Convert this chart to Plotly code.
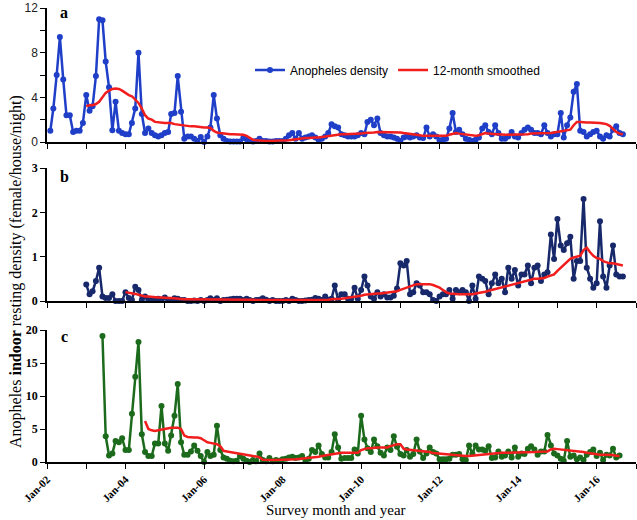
import pandas as pd
import plotly.graph_objects as go

# ---------------- data (monthly values) ----------------
# Panel a: Anopheles density, starts Feb-2002
a_start = "2002-02-01"
a_vals = (
    [1.0, 3.0, 6.0, 9.4, 5.6, 2.4, 2.4, 0.9, 1.0, 1.0, 1.7]                      # 2002
    + [4.2, 2.8, 3.2, 5.9, 11.0, 10.9, 7.2, 4.9, 1.05, 3.6, 1.0, 0.8]           # 2003
    + [0.7, 0.7, 1.7, 3.0, 8.0, 2.5, 0.8, 1.2, 0.8, 0.6, 0.5, 0.6]              # 2004
    + [0.8, 0.9, 2.5, 2.6, 5.9, 2.7, 0.3, 0.5, 0.5, 0.3, 0.1, 0.45]             # 2005
    + [0.0, 0.5, 1.3, 4.2, 2.1, 0.6, 0.3, 0.1, 0.05, 0.05, 0.05, 0.05]          # 2006
    + [0.35, 0.25, 0.1, 0.05, 0.1, 0.3, 0.1, 0.1, 0.05, 0.05, 0.1, 0.1]         # 2007
    + [0.1, 0.3, 0.6, 0.8, 0.3, 0.8, 0.3, 0.4, 0.5, 0.6, 0.4, 0.2]              # 2008
    + [0.3, 0.5, 0.8, 1.6, 1.4, 1.3, 0.7, 0.6, 0.5, 0.5, 0.5, 0.6]              # 2009
    + [0.8, 0.7, 1.8, 2.0, 1.5, 2.1, 0.8, 0.6, 0.5, 0.5, 0.4, 0.3]              # 2010
    + [0.1, 0.4, 0.5, 0.4, 0.5, 0.6, 0.4, 0.35, 1.3, 0.5, 0.7, 0.5]             # 2011
    + [0.15, 0.2, 0.3, 1.2, 2.6, 0.9, 1.1, 0.7, 0.3, 0.2, 0.1, 0.2]             # 2012
    + [0.4, 1.2, 1.5, 0.9, 0.7, 1.5, 0.8, 0.3, 0.3, 0.5, 0.9, 0.5]              # 2013
    + [0.4, 0.8, 1.1, 1.3, 1.1, 0.8, 0.8, 0.7, 1.5, 0.8, 0.5, 0.7]              # 2014
    + [0.7, 2.6, 0.4, 1.5, 2.2, 4.5, 5.2, 1.0, 0.9, 0.5, 0.7, 0.9]              # 2015
    + [1.0, 0.5, 0.3, 0.6, 0.5, 1.1, 1.4, 0.8, 0.7]                             # 2016
)
a_sm_start = "2003-01-01"
a_sm_vals = (
    [3.2, 3.3, 3.3, 3.4, 3.6, 4.0, 4.4, 4.6, 4.75, 4.8, 4.75, 4.6]
    + [4.4, 4.2, 4.1, 3.8, 3.5, 3.0, 2.4, 2.1, 2.0, 1.8, 1.75, 1.7]
    + [1.7, 1.7, 1.7, 1.6, 1.55, 1.5, 1.5, 1.45, 1.4, 1.4, 1.35, 1.3]
    + [1.3, 1.3, 1.25, 1.0, 0.85, 0.8, 0.75, 0.7, 0.7, 0.7, 0.7, 0.7]
    + [0.65, 0.55, 0.4, 0.2, 0.15, 0.12, 0.1, 0.1, 0.1, 0.1, 0.1, 0.1]
    + [0.1, 0.12, 0.15, 0.2, 0.25, 0.3, 0.3, 0.35, 0.35, 0.4, 0.4, 0.4]
    + [0.45, 0.5, 0.55, 0.6, 0.65, 0.7, 0.7, 0.7, 0.7, 0.75, 0.75, 0.75]
    + [0.75, 0.8, 0.8, 0.85, 0.85, 0.9, 0.9, 0.9, 0.9, 0.9, 0.9, 0.9]
    + [0.85, 0.8, 0.75, 0.7, 0.65, 0.6, 0.6, 0.55, 0.55, 0.5, 0.5, 0.5]
    + [0.5, 0.55, 0.55, 0.65, 0.75, 0.8, 0.75, 0.7, 0.65, 0.6, 0.55, 0.55]
    + [0.6, 0.7, 0.8, 0.75, 0.7, 0.7, 0.7, 0.65, 0.65, 0.65, 0.65, 0.65]
    + [0.65, 0.7, 0.7, 0.7, 0.75, 0.75, 0.75, 0.75, 0.75, 0.8, 0.8, 0.85]
    + [0.9, 0.9, 0.95, 1.0, 1.1, 1.5, 1.8, 1.8, 1.75, 1.75, 1.75, 1.75]
    + [1.75, 1.7, 1.65, 1.6, 1.45, 1.2, 0.9, 0.75, 0.7]
)

# Panel b: starts Jan-2003
b_start = "2003-01-01"
b_vals = (
    [0.37, 0.15, 0.22, 0.45, 0.75, 0.1, 0.07, 0.07, 0.15, 0.0, 0.0, 0.0]
    + [0.2, 0.07, 0.02, 0.32, 0.25, 0.02, 0.1, 0.02, 0.02, 0.03, 0.05, 0.03]
    + [0.08, 0.03, 0.02, 0.06, 0.05, 0.02, 0.02, 0.0, 0.0, 0.01, 0.0, 0.02]
    + [0.0, 0.02, 0.06, 0.02, 0.06, 0.0, 0.02, 0.03, 0.04, 0.05, 0.05, 0.05]
    + [0.02, 0.05, 0.02, 0.0, 0.02, 0.03, 0.06, 0.03, 0.0, 0.02, 0.0, 0.0]
    + [0.0, 0.02, 0.0, 0.05, 0.02, 0.0, 0.0, 0.01, 0.02, 0.03, 0.07, 0.05]
    + [0.02, 0.1, 0.03, 0.05, 0.35, 0.03, 0.15, 0.15, 0.05, 0.05, 0.3, 0.05]
    + [0.25, 0.55, 0.35, 0.1, 0.05, 0.2, 0.1, 0.15, 0.08, 0.08, 0.12, 0.28]
    + [0.85, 0.8, 0.9, 0.15, 0.2, 0.4, 0.35, 0.2, 0.2, 0.15, 0.02, 0.0]
    + [0.1, 0.15, 0.15, 0.25, 0.05, 0.25, 0.2, 0.25, 0.2, 0.0, 0.35, 0.05]
    + [0.55, 0.5, 0.45, 0.15, 0.4, 0.6, 0.4, 0.5, 0.2, 0.75, 0.5, 0.7]
    + [0.35, 0.6, 0.6, 0.8, 0.4, 0.75, 0.8, 0.45, 0.6, 0.65, 1.5, 0.95]
    + [1.85, 1.25, 1.15, 1.3, 1.45, 0.5, 0.9, 0.9, 2.3, 0.75, 0.5, 0.3]
    + [0.4, 1.8, 0.55, 0.3, 0.8, 1.25, 0.6, 0.55, 0.55]
)
b_sm_start = "2004-01-01"
b_sm_vals = (
    [0.2, 0.19, 0.18, 0.16, 0.14, 0.12, 0.1, 0.1, 0.09, 0.09, 0.08, 0.08]
    + [0.07, 0.07, 0.07, 0.06, 0.05, 0.05, 0.04, 0.04, 0.04, 0.04, 0.04, 0.03]
    + [0.03, 0.03, 0.03, 0.03, 0.03, 0.03, 0.03, 0.03, 0.03, 0.03, 0.03, 0.03]
    + [0.03, 0.03, 0.03, 0.03, 0.02, 0.02, 0.02, 0.02, 0.02, 0.02, 0.02, 0.02]
    + [0.02, 0.02, 0.02, 0.02, 0.02, 0.02, 0.02, 0.02, 0.03, 0.03, 0.03, 0.03]
    + [0.03, 0.03, 0.03, 0.04, 0.04, 0.05, 0.05, 0.06, 0.07, 0.08, 0.09, 0.1]
    + [0.12, 0.14, 0.15, 0.16, 0.16, 0.17, 0.17, 0.18, 0.18, 0.19, 0.2, 0.22]
    + [0.25, 0.28, 0.3, 0.33, 0.36, 0.38, 0.38, 0.38, 0.38, 0.38, 0.36, 0.33]
    + [0.3, 0.25, 0.2, 0.17, 0.16, 0.15, 0.15, 0.15, 0.15, 0.15, 0.15, 0.17]
    + [0.18, 0.2, 0.21, 0.23, 0.25, 0.27, 0.29, 0.31, 0.33, 0.35, 0.37, 0.39]
    + [0.41, 0.43, 0.45, 0.47, 0.49, 0.5, 0.5, 0.51, 0.52, 0.55, 0.58, 0.6]
    + [0.68, 0.75, 0.82, 0.9, 0.95, 0.98, 1.0, 1.02, 1.15, 1.2, 1.1, 1.02]
    + [0.97, 0.95, 0.9, 0.87, 0.85, 0.85, 0.83, 0.82, 0.8]
)

# Panel c: starts Jun-2003
c_start = "2003-06-01"
c_vals = (
    [19.1, 3.9, 1.0, 1.3, 3.2, 3.0, 3.6]
    + [1.8, 1.8, 7.3, 12.9, 18.2, 4.2, 1.5, 0.9, 0.9, 2.8, 2.8, 8.5]
    + [2.8, 1.7, 4.0, 7.0, 11.8, 3.0, 1.1, 1.1, 1.6, 2.5, 1.7, 0.9]
    + [0.0, 1.5, 0.9, 1.1, 5.5, 1.8, 0.7, 0.5, 0.2, 0.1, 0.2, 0.9]
    + [0.5, 0.2, 0.0, 0.3, 0.1, 1.3, 0.3, 0.1, 0.6, 0.1, 0.3, 0.2]
    + [0.4, 0.5, 0.7, 0.8, 0.6, 0.7, 0.9, 0.2, 0.5, 1.8, 1.5, 2.5]
    + [1.2, 0.7, 0.7, 1.5, 4.2, 2.2, 0.5, 0.6, 0.6, 0.6, 1.9, 1.3]
    + [7.0, 3.4, 2.1, 1.5, 3.4, 2.4, 1.4, 1.0, 2.2, 1.8, 3.9, 2.3]
    + [1.2, 1.0, 1.8, 0.8, 1.2, 3.4, 1.6, 0.6, 1.3, 2.2, 1.5, 1.3]
    + [0.4, 0.4, 0.4, 0.5, 1.1, 1.1, 1.2, 0.4, 0.3, 2.5, 1.3, 2.5]
    + [1.9, 1.9, 1.7, 2.4, 0.6, 0.7, 1.6, 0.8, 1.0, 1.6, 0.7, 2.2]
    + [0.8, 1.3, 1.2, 2.0, 2.4, 1.9, 1.1, 1.6, 1.6, 4.1, 2.5, 1.3]
    + [1.0, 0.5, 0.2, 3.2, 0.8, 1.0, 0.4, 0.7, 0.3, 1.1, 1.5, 1.9]
    + [0.9, 1.4, 0.3, 1.1, 1.0, 2.0, 0.7, 1.0]
)
c_sm_start = "2004-07-01"
c_sm_vals = (
    [6.2, 5.0, 4.8, 4.7, 4.8, 4.9]
    + [5.1, 5.2, 5.2, 5.2, 5.2, 5.0, 4.0, 3.8, 3.7, 3.7, 3.7, 3.6]
    + [3.3, 3.0, 2.9, 2.8, 2.7, 2.4, 1.7, 1.6, 1.5, 1.4, 1.3, 1.2]
    + [1.1, 1.0, 0.95, 0.9, 0.85, 0.7, 0.35, 0.3, 0.3, 0.3, 0.3, 0.3]
    + [0.3, 0.35, 0.35, 0.4, 0.4, 0.45, 0.5, 0.5, 0.55, 0.6, 0.7, 0.8]
    + [0.9, 1.0, 1.1, 1.2, 1.3, 1.4, 1.4, 1.4, 1.4, 1.4, 1.4, 1.4]
    + [1.8, 2.0, 2.1, 2.1, 2.2, 2.2, 2.2, 2.2, 2.2, 2.4, 2.6, 2.7]
    + [2.7, 2.0, 1.9, 1.85, 1.8, 1.8, 1.75, 1.65, 1.6, 1.5, 1.35, 1.3]
    + [1.25, 1.2, 1.15, 1.1, 1.0, 1.0, 0.95, 0.9, 0.9, 0.9, 0.95, 1.0]
    + [1.05, 1.15, 1.25, 1.3, 1.35, 1.4, 1.4, 1.4, 1.4, 1.4, 1.4, 1.4]
    + [1.4, 1.45, 1.45, 1.5, 1.5, 1.5, 1.55, 1.55, 1.6, 1.6, 1.9, 2.0]
    + [1.95, 1.9, 1.85, 1.8, 1.75, 1.7, 1.7, 1.6, 1.5, 1.4, 1.3, 1.2]
    + [1.15, 1.1, 1.1, 1.1, 1.1, 1.05, 0.95, 0.9]
)

series_names = ["Anopheles density", "12-month smoothed"]
panel_labels = ["a", "b", "c"]
x_title = "Survey month and year"
y_title = "Anopheles <b>indoor</b> resting density (female/house/night)"


def months(start, vals):
    return pd.date_range(start, periods=len(vals), freq="MS")


# ---------------- geometry ----------------
W, H = 637, 520
ML, MR, MT, MB = 47, 1, 8, 58
PW, PH = W - ML - MR, H - MT - MB


def fx(px):
    return (px - ML) / PW


def fy(py):
    return (H - MB - py) / PH


RED = "#f21d1d"
colors = ["#1f3fc8", "#17296b", "#1c6b1c"]

fig = go.Figure()
panels = [
    (a_start, a_vals, a_sm_start, a_sm_vals),
    (b_start, b_vals, b_sm_start, b_sm_vals),
    (c_start, c_vals, c_sm_start, c_sm_vals),
]
for i, (s0, v, s1, sv) in enumerate(panels):
    xa = "x" if i == 0 else f"x{i+1}"
    ya = "y" if i == 0 else f"y{i+1}"
    fig.add_trace(go.Scatter(
        x=months(s0, v), y=v, mode="lines+markers", name=series_names[0],
        line=dict(color=colors[i], width=2.5),
        marker=dict(color=colors[i], size=6),
        xaxis=xa, yaxis=ya, showlegend=(i == 0), cliponaxis=False,
    ))
    fig.add_trace(go.Scatter(
        x=months(s1, sv), y=sv, mode="lines", name=series_names[1],
        line=dict(color=RED, width=2.5),
        xaxis=xa, yaxis=ya, showlegend=(i == 0), cliponaxis=False,
    ))

xr = ["2002-01-01", "2017-01-01"]
domains = [
    [fy(142), fy(8)],
    [fy(301), fy(168)],
    [fy(462), fy(330)],
]
yranges = [[0, 12], [0, 3], [0, 20]]
ydticks = [4, 1, 5]

serif_bold = dict(family="Liberation Serif", size=12, color="black", weight="bold")
sans = dict(family="Liberation Sans", size=12, color="#222")

layout = dict(
    width=W, height=H, paper_bgcolor="white", plot_bgcolor="white",
    margin=dict(l=ML, r=MR, t=MT, b=MB, autoexpand=False),
    legend=dict(orientation="h", x=fx(250), y=fy(70), xanchor="left", yanchor="middle",
                font=dict(family="Liberation Sans", size=12, color="black"),
                bgcolor="rgba(0,0,0,0)", itemwidth=30, tracegroupgap=0),
    showlegend=True,
)
for i in range(3):
    xk = "xaxis" if i == 0 else f"xaxis{i+1}"
    yk = "yaxis" if i == 0 else f"yaxis{i+1}"
    ya = "y" if i == 0 else f"y{i+1}"
    xa = "x" if i == 0 else f"x{i+1}"
    layout[xk] = dict(
        type="date", range=xr, domain=[0, 1], anchor=ya,
        showline=True, linecolor="black", linewidth=1.5,
        showgrid=False, zeroline=False,
        ticks="outside", ticklen=5, tickcolor="black", tickwidth=1,
        dtick="M24", tick0="2002-01-01", tickformat="%b-%y",
        minor=dict(dtick="M12", ticks="outside", ticklen=5, tickcolor="black", showgrid=False),
        showticklabels=(i == 2), tickangle=-45,
    )
    layout[yk] = dict(
        range=yranges[i], domain=domains[i], anchor=xa,
        showline=True, linecolor="black", linewidth=1.5,
        showgrid=False, zeroline=False,
        ticks="outside", ticklen=5, tickcolor="black",
        dtick=ydticks[i], tick0=0,
        tickfont=sans if i == 0 else serif_bold,
    )
layout["yaxis"]["minor"] = dict(dtick=2, ticks="outside", ticklen=5, tickcolor="black", showgrid=False)
layout["xaxis3"]["tickfont"] = dict(family="Liberation Serif", size=11, color="black", weight="bold")

fig.update_layout(**layout)

ann = []
for lab, (px, py) in zip(panel_labels, [(64, 13), (64, 176), (64, 336)]):
    ann.append(dict(text=f"<b>{lab}</b>", x=fx(px), y=fy(py), xref="paper", yref="paper",
                    showarrow=False, xanchor="center", yanchor="middle",
                    font=dict(family="Liberation Serif", size=16, color="black")))
ann.append(dict(text=x_title, x=fx(336), y=fy(510), xref="paper", yref="paper",
                showarrow=False, xanchor="center", yanchor="middle",
                font=dict(family="Liberation Serif", size=15, color="black")))
ann.append(dict(text=y_title, x=fx(16), y=fy(272), xref="paper", yref="paper",
                showarrow=False, xanchor="center", yanchor="middle", textangle=-90,
                font=dict(family="Liberation Serif", size=16, color="black")))
fig.update_layout(annotations=ann)

fig.write_html("out.html", config={"displayModeBar": False},
               post_script="document.body.style.margin='0';document.body.style.padding='0';")
